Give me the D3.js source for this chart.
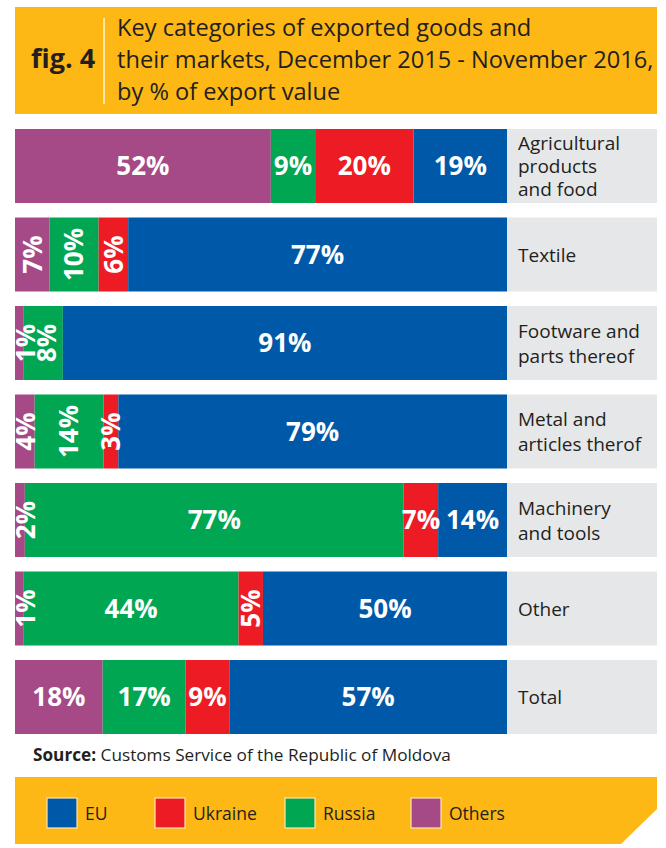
<!DOCTYPE html>
<html>
<head>
<meta charset="utf-8">
<script src="https://cdn.jsdelivr.net/npm/d3@7"></script>
<style>
  html, body { margin: 0; padding: 0; background: #ffffff; }
  svg { display: block; }
  text { font-family: "Open Sans", "Noto Sans", sans-serif; }
</style>
</head>
<body>
<div id="chart"></div>
<script>
// ---------- data ----------
const figLabel = "fig. 4";
const titleLines = [
  "Key categories of exported goods and",
  "their markets, December 2015 - November 2016,",
  "by % of export value"
];
const categories = [
  "Agricultural\nproducts\nand food",
  "Textile",
  "Footware and\nparts thereof",
  "Metal and\narticles therof",
  "Machinery\nand tools",
  "Other",
  "Total"
];
const seriesKeys  = ["Others", "Russia", "Ukraine", "EU"];   // left-to-right stacking order
const legendOrder = ["EU", "Ukraine", "Russia", "Others"];
const others  = [52, 7, 1, 4, 2, 1, 18];
const russia  = [9, 10, 8, 14, 77, 44, 17];
const ukraine = [20, 6, 0, 3, 7, 5, 9];
const eu      = [19, 77, 91, 79, 14, 50, 57];
// labels written vertically in the original, per category
const verticalLabels = [
  [],
  ["Others", "Russia", "Ukraine"],
  ["Others", "Russia"],
  ["Others", "Russia", "Ukraine"],
  ["Others"],
  ["Others", "Ukraine"],
  []
];
const sourceBold = "Source:";
const sourceText = " Customs Service of the Republic of Moldova";

// ---------- styles ----------
const W = 666, H = 848;
const colors = { EU: "#0059a8", Ukraine: "#ed1c24", Russia: "#00a651", Others: "#a54a86" };
const yellow = "#fdb815";
const grey = "#e6e7e9";
const ink = "#231f20";
const minShare = 1.8;   // tiny slivers are drawn at least this wide (in % units), as in the original

const rows = categories.map((c, i) => ({
  category: c, Others: others[i], Russia: russia[i], Ukraine: ukraine[i], EU: eu[i], vertical: verticalLabels[i]
}));

const svg = d3.select("#chart").append("svg").attr("width", W).attr("height", H);

// ---------- header ----------
svg.append("rect").attr("x", 15).attr("y", 7).attr("width", 642).attr("height", 107).attr("fill", yellow);
svg.append("text").attr("x", 31).attr("y", 68)
  .attr("font-size", 27).attr("font-weight", 700).attr("fill", ink).text(figLabel);
svg.append("line").attr("x1", 104).attr("x2", 104).attr("y1", 18).attr("y2", 104)
  .attr("stroke", "#fff1c9").attr("stroke-width", 1.6);
svg.append("g").selectAll("text").data(titleLines).join("text")
  .attr("x", 117).attr("y", (d, i) => 36 + i * 32)
  .attr("font-size", 23.6).attr("fill", ink).text(d => d);

// ---------- bars ----------
const barX0 = 15, barX1 = 507, labelX1 = 657;
const y = d3.scaleBand().domain(categories).range([129, 734]).paddingInner(14.5 / 88.5).paddingOuter(0);

// display values (tiny slivers get a minimum width)
const disp = rows.map(d => {
  const o = { category: d.category };
  seriesKeys.forEach(k => { o[k] = d[k] > 0 ? Math.max(d[k], minShare) : 0; });
  return o;
});
const stacked = d3.stack().keys(seriesKeys)(disp);

const rowG = svg.append("g").selectAll("g.row").data(rows).join("g").attr("class", "row");

// label background
rowG.append("rect")
  .attr("x", barX1).attr("y", d => y(d.category))
  .attr("width", labelX1 - barX1).attr("height", y.bandwidth())
  .attr("fill", grey);

const rowScales = disp.map(d =>
  d3.scaleLinear().domain([0, d3.sum(seriesKeys, k => d[k])]).range([barX0, barX1]));

const segs = [];
stacked.forEach(layer => {
  layer.forEach((s, i) => {
    const d = rows[i];
    segs.push({ key: layer.key, v: d[layer.key], s0: s[0], s1: s[1], row: d, sc: rowScales[i] });
  });
});
const shown = segs.filter(s => s.v > 0);

const segG = svg.append("g");
segG.selectAll("rect").data(shown).join("rect")
  .attr("x", s => s.sc(s.s0))
  .attr("width", s => s.sc(s.s1) - s.sc(s.s0))
  .attr("y", s => y(s.row.category))
  .attr("height", y.bandwidth())
  .attr("fill", s => colors[s.key]);

const fs = 26;
// compute label centres, keeping vertical labels inside the bar and apart from each other
const lastCx = {};
seriesKeys.forEach(k => {
  shown.filter(s => s.key === k).forEach(s => {
    let cx = (s.sc(s.s0) + s.sc(s.s1)) / 2;
    if (s.row.vertical.includes(s.key)) {
      cx = Math.max(cx, barX0 + fs * 0.4);
      const prev = lastCx[s.row.category];
      if (prev !== undefined) cx = Math.max(cx, prev + fs * 0.8);
      lastCx[s.row.category] = cx;
    }
    s.cx = cx;
  });
});

segG.selectAll("text").data(shown).join("text")
  .attr("transform", s => {
    const cy = y(s.row.category) + y.bandwidth() / 2;
    return s.row.vertical.includes(s.key)
      ? `translate(${s.cx},${cy}) rotate(-90)`
      : `translate(${s.cx},${cy})`;
  })
  .attr("text-anchor", "middle")
  .attr("dy", "0.36em")
  .attr("font-size", fs).attr("font-weight", 700).attr("fill", "#ffffff")
  .text(s => s.v + "%");

// category labels
rowG.each(function(d) {
  const lines = d.category.split("\n");
  const n = lines.length;
  const lh = Math.min(25, 68 / n);
  const cy = y(d.category) + y.bandwidth() / 2;
  d3.select(this).append("g").selectAll("text").data(lines).join("text")
    .attr("x", 518)
    .attr("y", (t, i) => cy + 7 + (i - (n - 1) / 2) * lh)
    .attr("font-size", 19).attr("fill", ink)
    .text(t => t);
});

// ---------- source ----------
const src = svg.append("text").attr("x", 33).attr("y", 761).attr("font-size", 17.2).attr("fill", ink);
src.append("tspan").attr("font-weight", 700).text(sourceBold);
src.append("tspan").text(sourceText);

// ---------- legend ----------
svg.append("path")
  .attr("d", "M15,777 L657,777 L657,809 L621,844 L15,844 Z")
  .attr("fill", yellow);
const legPos = { EU: 47, Ukraine: 155, Russia: 285, Others: 411 };
const lg = svg.append("g").selectAll("g").data(legendOrder).join("g")
  .attr("transform", k => `translate(${legPos[k]},798)`);
lg.append("rect").attr("width", 30).attr("height", 30)
  .attr("fill", k => colors[k]).attr("stroke", "#fde7ae").attr("stroke-width", 1.2);
lg.append("text").attr("x", 38).attr("y", 22)
  .attr("font-size", 17.5).attr("fill", ink).text(k => k);
</script>
</body>
</html>
